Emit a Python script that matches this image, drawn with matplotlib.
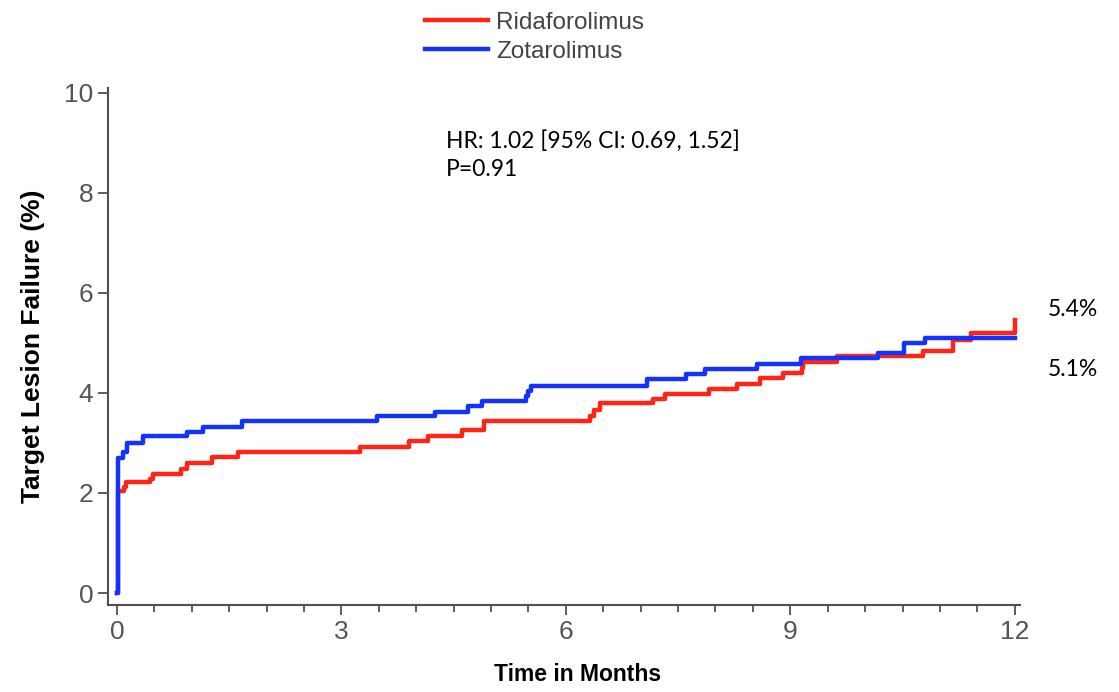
import matplotlib
matplotlib.use("Agg")
import matplotlib.pyplot as plt
from matplotlib.ticker import MultipleLocator

# Kaplan-Meier style cumulative failure (%)
zot_t = [0, 0.02, 0.076, 0.13, 0.35, 0.93, 1.15, 1.67, 3.47, 4.25, 4.69, 4.88,
         5.47, 5.50, 5.54, 7.09, 7.61, 7.86, 8.55, 9.14, 10.17, 10.52, 10.8, 12.0]
zot_y = [0, 2.69, 2.81, 2.99, 3.13, 3.21, 3.31, 3.43, 3.53, 3.61, 3.74, 3.84,
         3.94, 4.04, 4.14, 4.27, 4.37, 4.48, 4.57, 4.69, 4.79, 4.99, 5.09, 5.09]

rid_t = [0, 0.02, 0.09, 0.12, 0.44, 0.48, 0.86, 0.93, 1.27, 1.62, 3.25, 3.91,
         4.16, 4.61, 4.90, 6.32, 6.37, 6.46, 7.16, 7.32, 7.92, 8.29, 8.59, 8.90,
         9.15, 9.17, 9.62, 10.78, 11.18, 11.42, 12.0]
rid_y = [0, 2.03, 2.11, 2.21, 2.28, 2.38, 2.48, 2.59, 2.71, 2.81, 2.91, 3.03,
         3.13, 3.25, 3.43, 3.54, 3.66, 3.79, 3.87, 3.97, 4.07, 4.17, 4.29, 4.39,
         4.49, 4.61, 4.74, 4.83, 5.05, 5.19, 5.45]

labels = ["Ridaforolimus", "Zotarolimus"]
colors = ["#ff2414", "#1432ff"]
end_labels = ["5.4%", "5.1%"]
end_label_y = [5.66, 4.46]
stats_text = "HR: 1.02 [95% CI: 0.69, 1.52]\nP=0.91"

plt.rcParams['font.family'] = ['Liberation Sans', 'DejaVu Sans']
grey = "#505050"
narrow = ["Liberation Sans Narrow", "Liberation Sans", "DejaVu Sans"]

fig = plt.figure(figsize=(11.19, 6.92), dpi=100)
ax = fig.add_axes([0.0965, 0.1257, 0.815, 0.7473])

l1, = ax.step(rid_t, rid_y, where="post", color=colors[0], lw=3.2)
l2, = ax.step(zot_t, zot_y, where="post", color=colors[1], lw=3.2)

ax.set_xlim(-0.12, 12.07)
ax.set_ylim(-0.24, 10.1)
ax.xaxis.set_major_locator(MultipleLocator(3))
ax.xaxis.set_minor_locator(MultipleLocator(0.5))
ax.yaxis.set_major_locator(MultipleLocator(2))

for s in ["top", "right"]:
    ax.spines[s].set_visible(False)
for s in ["left", "bottom"]:
    ax.spines[s].set_color(grey)
    ax.spines[s].set_linewidth(1.5)
ax.tick_params(which="both", direction="out", color=grey, width=1.3,
               labelcolor="#555555", labelsize=19)
ax.tick_params(which="major", length=7)
ax.tick_params(which="minor", length=5)
for lab in ax.get_xticklabels() + ax.get_yticklabels():
    lab.set_family(narrow)

ax.set_xlabel("Time in Months", fontsize=16.5, fontweight="bold")
ax.xaxis.set_label_coords(0.515, -0.112)
ax.set_ylabel("Target Lesion Failure (%)", fontsize=19, fontweight="bold", labelpad=14)

ax.text(4.4, 9.25, stats_text, fontsize=16.5, family=["Lato", "DejaVu Sans"],
        va="top", ha="left", linespacing=1.4)

for txt, yv in zip(end_labels, end_label_y):
    ax.text(12.44, yv, txt, fontsize=16.5, family=["Lato", "DejaVu Sans"],
            va="center", ha="left", clip_on=False)

fig.legend([l1, l2], labels, loc="upper left", bbox_to_anchor=(0.36, 1.015),
           frameon=False, fontsize=17.5, handlelength=2.6, handletextpad=0.35,
           labelspacing=0.3, labelcolor="#444444")

fig.savefig("out.png", dpi=100)
